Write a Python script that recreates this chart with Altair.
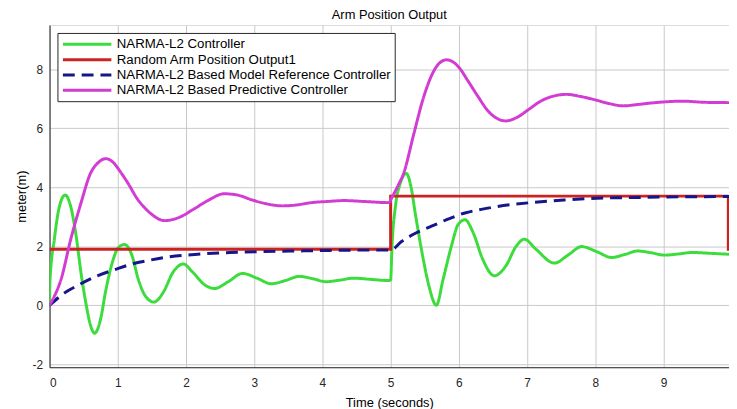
import altair as alt
import pandas as pd

series_names = [
    "NARMA-L2 Controller",
    "Random Arm Position Output1",
    "NARMA-L2 Based Model Reference Controller",
    "NARMA-L2 Based Predictive Controller",
]
colors = ["#3ddc3d", "#cc2222", "#16168a", "#d23cd2"]
dashes = [[1, 0], [1, 0], [12, 7], [1, 0]]

x_ticks = [0, 1, 2, 3, 4, 5, 6, 7, 8, 9]
y_ticks = [-2, 0, 2, 4, 6, 8]

# NARMA-L2 Controller (green)
green_t = [0, 0.005, 0.07, 0.145, 0.23, 0.31, 0.39, 0.46, 0.53, 0.60, 0.66, 0.75, 0.82, 0.92,
           1.01, 1.10, 1.21, 1.30, 1.40, 1.53, 1.67, 1.81, 1.96, 2.10, 2.27, 2.42, 2.62, 2.83,
           3.04, 3.25, 3.46, 3.66, 3.86, 4.05, 4.25, 4.46, 4.70, 4.97, 5.00, 5.02, 5.07, 5.14,
           5.23, 5.30, 5.36, 5.46, 5.56, 5.67, 5.77, 5.89, 5.99, 6.09, 6.21, 6.35, 6.52, 6.69,
           6.84, 6.96, 7.13, 7.40, 7.60, 7.80, 8.02, 8.24, 8.43, 8.62, 8.82, 9.01, 9.22, 9.42,
           9.70, 9.96]
green_v = [0, 0.78, 2.23, 3.35, 3.74, 3.35, 2.35, 1.12, 0.11, -0.67, -0.95, -0.45, 0.45, 1.45,
           1.96, 2.06, 1.68, 0.89, 0.33, 0.11, 0.45, 1.12, 1.40, 1.12, 0.70, 0.57, 0.80, 1.08,
           0.92, 0.73, 0.84, 0.98, 0.90, 0.80, 0.85, 0.92, 0.88, 0.84, 0.86, 2.00, 3.35, 4.13,
           4.47, 4.00, 3.13, 1.79, 0.67, 0.00, 0.89, 2.00, 2.74, 2.90, 2.46, 1.56, 1.00, 1.34,
           2.00, 2.24, 1.90, 1.43, 1.70, 1.99, 1.82, 1.62, 1.72, 1.84, 1.78, 1.70, 1.74, 1.79,
           1.76, 1.73]

# Random Arm Position Output1 (red)
red_t = [0, 5.0, 5.0, 9.95, 9.95, 10.0]
red_v = [1.9, 1.9, 3.7, 3.7, 1.9, 1.9]

# NARMA-L2 Based Model Reference Controller (blue dashed)
blue_t = [0, 0.24, 0.41, 0.68, 0.97, 1.21, 1.45, 1.69, 2.17, 2.65, 3.14, 3.60, 4.10, 4.60,
          5.00, 5.16, 5.37, 5.60, 5.85, 6.09, 6.33, 6.57, 7.05, 7.54, 8.02, 8.50, 8.99, 9.50, 9.96]
blue_v = [0, 0.45, 0.67, 0.98, 1.22, 1.40, 1.52, 1.62, 1.73, 1.79, 1.82, 1.84, 1.86, 1.87,
          1.87, 2.16, 2.45, 2.68, 2.93, 3.13, 3.25, 3.35, 3.48, 3.57, 3.63, 3.65, 3.67, 3.68, 3.69]

# NARMA-L2 Based Predictive Controller (magenta)
mag_t = [0, 0.08, 0.17, 0.31, 0.46, 0.60, 0.72, 0.82, 0.93, 1.04, 1.16, 1.28, 1.45, 1.69,
         1.90, 2.10, 2.32, 2.56, 2.75, 2.97, 3.18, 3.41, 3.62, 3.84, 4.08, 4.32, 4.60, 4.98,
         5.00, 5.10, 5.19, 5.34, 5.48, 5.63, 5.72, 5.82, 5.92, 6.01, 6.13, 6.26, 6.45, 6.69,
         6.86, 7.03, 7.20, 7.34, 7.58, 7.78, 7.97, 8.20, 8.41, 8.60, 8.79, 9.05, 9.28, 9.60, 9.96]
mag_v = [0, 0.35, 0.89, 2.23, 3.46, 4.47, 4.85, 4.97, 4.85, 4.52, 4.10, 3.63, 3.18, 2.87,
         2.98, 3.24, 3.55, 3.78, 3.74, 3.57, 3.44, 3.37, 3.40, 3.48, 3.52, 3.55, 3.52, 3.48,
         3.57, 4.02, 4.47, 5.81, 7.03, 7.93, 8.22, 8.32, 8.24, 8.04, 7.62, 7.15, 6.53, 6.25,
         6.38, 6.65, 6.92, 7.06, 7.15, 7.08, 6.98, 6.84, 6.76, 6.80, 6.85, 6.90, 6.92, 6.88, 6.87]

FONT = "Liberation Sans"
TXT = "#262626"


def legend_spec():
    return alt.Legend(
        orient="none", legendX=8, legendY=8,
        symbolType="M-1,0H7.17", symbolSize=144, symbolStrokeWidth=3,
        labelFont=FONT, labelFontSize=13.4, labelColor="#000000", labelOffset=41,
        labelLimit=400, rowPadding=1.5, padding=4,
        fillColor="#ffffff", strokeColor=TXT, cornerRadius=0,
    )


color_enc = alt.Color(
    "series:N",
    scale=alt.Scale(domain=series_names, range=colors),
    title=None,
    legend=legend_spec(),
)
dash_enc = alt.StrokeDash(
    "series:N",
    scale=alt.Scale(domain=series_names, range=dashes),
    title=None,
    legend=legend_spec(),
)

x_enc = alt.X(
    "t:Q",
    scale=alt.Scale(domain=[0, 9.96], nice=False, zero=False),
    axis=alt.Axis(values=x_ticks, labelExpr="'' + datum.value", title="Time (seconds)", grid=True,
                  gridColor="#c8c8c8", tickSize=0, labelPadding=10, titlePadding=9,
                  labelFont=FONT, labelFontSize=12, labelColor=TXT,
                  titleFont=FONT, titleFontSize=13, titleFontWeight="normal", titleColor="#000000",
                  domainColor=TXT),
)
y_enc = alt.Y(
    "v:Q",
    scale=alt.Scale(domain=[-2.1, 9.5], nice=False, zero=False),
    axis=alt.Axis(values=y_ticks, labelExpr="'' + datum.value", title="meter(m)", grid=True,
                  gridColor="#c8c8c8", tickSize=0, labelPadding=7, titlePadding=4,
                  labelFont=FONT, labelFontSize=12, labelColor=TXT,
                  titleFont=FONT, titleFontSize=13, titleFontWeight="normal", titleColor="#000000",
                  domainColor=TXT),
)


def make_layer(name, ts, vs, interp):
    df = pd.DataFrame({"t": ts, "v": vs, "series": name, "i": list(range(len(ts)))})
    return alt.Chart(df).mark_line(strokeWidth=3, interpolate=interp, clip=True).encode(
        x=x_enc, y=y_enc, color=color_enc, strokeDash=dash_enc, order=alt.Order("i:Q")
    )


chart = alt.layer(
    make_layer(series_names[0], green_t, green_v, "monotone"),
    make_layer(series_names[1], red_t, red_v, "linear"),
    make_layer(series_names[2], blue_t, blue_v, "monotone"),
    make_layer(series_names[3], mag_t, mag_v, "monotone"),
).properties(
    width=687,
    height=346,
    autosize=alt.AutoSizeParams(type="none"),
    padding={"left": 42, "top": 15, "right": 0, "bottom": 40},
    title=alt.TitleParams("Arm Position Output", font=FONT, fontSize=13,
                          fontWeight="normal", color="#000000", offset=3),
).configure_view(
    stroke=TXT, strokeWidth=1
).configure(background="#ffffff")

chart.save("out.html", embed_options={"renderer": "svg", "actions": False})
